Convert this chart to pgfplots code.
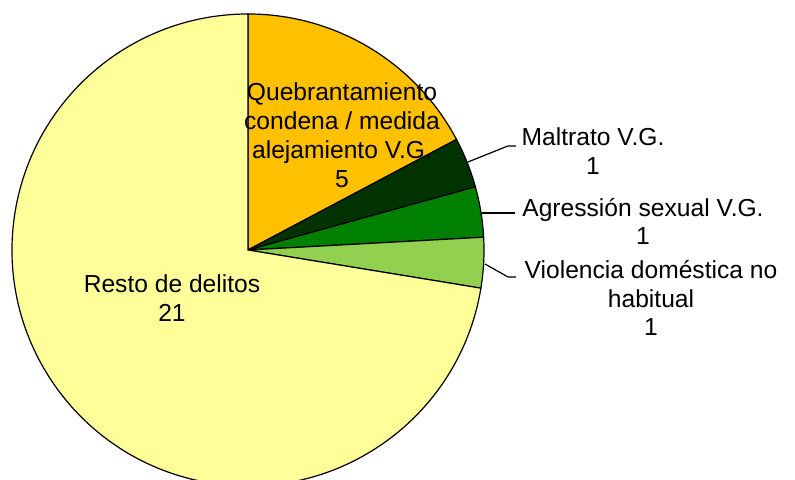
\documentclass[border=0pt]{standalone}
\usepackage{pgfplots}
\pgfplotsset{compat=1.18}
\usepackage{fontspec}
\setmainfont{Liberation Sans}
\definecolor{cQ}{HTML}{FFC000}
\definecolor{cM}{HTML}{003300}
\definecolor{cA}{HTML}{008000}
\definecolor{cV}{HTML}{92D050}
\definecolor{cR}{HTML}{FFFF99}
\begin{document}
\begin{tikzpicture}
% values: 5, 1, 1, 1, 21 (total 29)
\pgfmathsetmacro\tot{5+1+1+1+21}
\pgfmathsetmacro\aA{90}
\pgfmathsetmacro\aB{\aA-5*360/\tot}
\pgfmathsetmacro\aC{\aB-1*360/\tot}
\pgfmathsetmacro\aD{\aC-1*360/\tot}
\pgfmathsetmacro\aE{\aD-1*360/\tot}
\pgfmathsetmacro\aF{\aE-21*360/\tot}
\begin{axis}[name=ax, hide axis, x=0.5bp, y=0.5bp,
  xmin=0, xmax=795, ymin=0, ymax=480, clip=false]
\path (axis cs:0,0) rectangle (axis cs:795,480);
\def\R{118bp}
\filldraw[fill=cQ, draw=black, line width=0.6bp] (axis cs:248,230) -- ++(\aA:\R) arc[start angle=\aA, end angle=\aB, radius=\R] -- cycle;
\filldraw[fill=cM, draw=black, line width=0.6bp] (axis cs:248,230) -- ++(\aB:\R) arc[start angle=\aB, end angle=\aC, radius=\R] -- cycle;
\filldraw[fill=cA, draw=black, line width=0.6bp] (axis cs:248,230) -- ++(\aC:\R) arc[start angle=\aC, end angle=\aD, radius=\R] -- cycle;
\filldraw[fill=cV, draw=black, line width=0.6bp] (axis cs:248,230) -- ++(\aD:\R) arc[start angle=\aD, end angle=\aE, radius=\R] -- cycle;
\filldraw[fill=cR, draw=black, line width=0.6bp] (axis cs:248,230) -- ++(\aE:\R) arc[start angle=\aE, end angle=\aF, radius=\R] -- cycle;
\draw[line width=0.6bp] (axis cs:468,318) -- (axis cs:508,334) -- (axis cs:516,334);
\draw[line width=0.6bp] (axis cs:482,267) -- (axis cs:515,267);
\draw[line width=0.6bp] (axis cs:485,216) -- (axis cs:508,203) -- (axis cs:516,203);
\tikzset{lab/.style={align=center, inner sep=0pt, font=\fontsize{12.35}{14.5}\selectfont}}
\node[lab] at (axis cs:342,344.5) {Quebrantamiento\\condena / medida\\alejamiento V.G.\\5};
\node[lab] at (axis cs:593,329) {Maltrato V.G.\\1};
\node[lab] at (axis cs:643,258.5) {Agressión sexual V.G.\\1};
\node[lab] at (axis cs:651,182) {Violencia doméstica no\\habitual\\1};
\node[lab] at (axis cs:172,181.5) {Resto de delitos\\21};
\end{axis}
\pgfresetboundingbox
\path (ax.south west) rectangle (ax.north east);
\end{tikzpicture}
\end{document}
